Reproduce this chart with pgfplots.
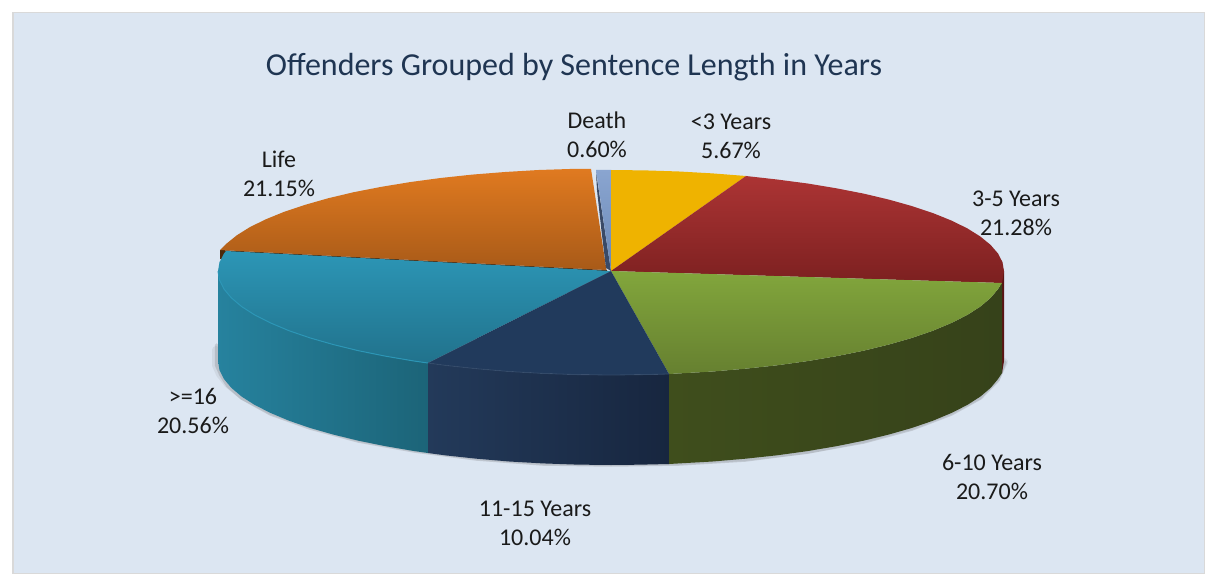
\documentclass[border=0pt]{standalone}
\usepackage{pgfplots}
\pgfplotsset{compat=1.18}
\usepackage{fontspec}
\setmainfont{Carlito}
\definecolor{panel}{HTML}{DCE6F2}
\definecolor{lab}{HTML}{1A1A1A}
\definecolor{ttl}{HTML}{1F3552}
\definecolor{lifeT}{HTML}{E07A20}\definecolor{lifeB}{HTML}{A85A18}
\definecolor{gteT}{HTML}{2C96B6}\definecolor{gteB}{HTML}{21728C}
\definecolor{gteL}{HTML}{26829E}\definecolor{gteR}{HTML}{1C6478}
\definecolor{navyT}{HTML}{213A5C}\definecolor{navyL}{HTML}{233A5A}\definecolor{navyR}{HTML}{17263F}
\definecolor{greenT}{HTML}{82A63C}\definecolor{greenB}{HTML}{668030}
\definecolor{greenL}{HTML}{3F4E1C}\definecolor{greenM}{HTML}{2F3A12}\definecolor{greenR}{HTML}{36421A}
\definecolor{redT}{HTML}{AC3434}\definecolor{redB}{HTML}{7C2020}\definecolor{redS}{HTML}{5A1414}
\definecolor{yel}{HTML}{EFB300}
\definecolor{deathT}{HTML}{8AA5D0}\definecolor{deathB}{HTML}{6A88B5}\definecolor{deathS}{HTML}{3A4A66}
\tikzset{lbl/.style={text=lab, align=center, font=\fontsize{24}{29}\selectfont}}
\begin{document}
\begin{tikzpicture}
\begin{axis}[
  scale only axis, width=1205pt, height=575pt,
  xmin=0, xmax=1205, ymin=0, ymax=575, y dir=reverse,
  hide axis,
  clip=true,
]
% page and panel
\addplot[fill=white, draw=none] coordinates {(0,0)(1205,0)(1205,575)(0,575)} --cycle;
\addplot[fill=panel, draw=black!15, line width=1.2pt] coordinates {(13,12.5)(1204.5,12.5)(1204.5,573.5)(13,573.5)} --cycle;
% soft shadow under the pie
\addplot[draw=black!60, opacity=0.10, line width=8pt, line cap=round] coordinates {(216,350)(216,365)(220,374)(228,384)(243,396)(272,411)(312,425)(360,438)(416,448)(478,456)(544,461)(611,462)(679,461)(745,457)(807,450)(863,439)(911,426)(950,411)(978,396)(996,378)(1004,362)};
\addplot[draw=black!60, opacity=0.22, line width=3.5pt, line cap=round] coordinates {(216.5,345)(216.5,365)(221,375)(228,386)(241.7,398)(270.7,414)(310,428)(358.4,441)(414.5,451)(476.6,459)(542.8,464)(611,465)(679.2,464)(745.4,460)(807.5,452)(863.6,442)(912,429)(951.3,414)(980.3,398)(998,380)(1005,362)};
% side of 3-5 Years
\addplot[fill=redS, draw=none] coordinates {(1000,271)(1004,271)(1004,361)(1002,373)(1000,373)} --cycle;
% side of >=16
\addplot[left color=gteL, right color=gteR, draw=none] coordinates {
 (218,271)(219.5,280.1)(224,289.1)(231.4,297.9)(241.7,306.6)(254.8,315)(270.7,323)(289,330.7)(310,337.9)(333.1,344.5)(358.4,350.7)(385.6,356.2)(414.5,361.1)(428,363)
 (428,453)(414.5,451.1)(385.6,446.2)(358.4,440.7)(333.1,434.5)(310,427.9)(289,420.7)(270.7,413)(254.8,405)(241.7,396.6)(231.4,387.9)(224,379.1)(219.5,370.1)(218,361)} --cycle;
% side of 11-15 Years
\addplot[left color=navyL, right color=navyR, draw=none] coordinates {
 (428,363)(444.9,365.3)(476.6,368.7)(509.3,371.5)(542.8,373.4)(576.7,374.6)(611,375)(638.4,374.7)(669,374)
 (669,464)(638.4,464.7)(611,465)(576.7,464.6)(542.8,463.4)(509.3,461.5)(476.6,458.7)(444.9,455.3)(428,453)} --cycle;
% side of 6-10 Years
\addplot[left color=greenL, middle color=greenM, right color=greenR, draw=none] coordinates {
 (669,374)(679.2,373.4)(712.7,371.5)(745.4,368.7)(777.1,365.3)(807.5,361.1)(836.4,356.2)(863.6,350.7)(888.9,344.5)(912,337.9)(933,330.7)(951.3,323)(967.2,315)(980.3,306.6)(990.6,297.9)(998,289.1)(1002,283)
 (1002,373)(998,379.1)(990.6,387.9)(980.3,396.6)(967.2,405)(951.3,413)(933,420.7)(912,427.9)(888.9,434.5)(863.6,440.7)(836.4,446.2)(807.5,451.1)(777.1,455.3)(745.4,458.7)(712.7,461.5)(679.2,463.4)(669,464)} --cycle;
% dark edge of Life
\addplot[fill=lifeB!45!black, draw=none] coordinates {(220,250)(607,270)(607,273)(220,259)} --cycle;
% top: Life
\addplot[top color=lifeT, bottom color=lifeB, draw=none] coordinates {
 (606.5,270)(591,168.8)(572.7,168.9)(538.6,170)(505,172)(472.3,174.6)(440.5,178)(410,182.1)(381,186.9)(353.7,192.2)(328.4,198.2)(305.2,204.8)(284.2,211.8)(265.8,219.3)(249.9,227.1)(236.8,235.3)(226.4,243.7)(220,250)} --cycle;
% top: Death
\addplot[fill=deathS, draw=none] coordinates {(596,172)(597,190)(601.7,233)(606,268)(611,271)} --cycle;
\addplot[top color=deathT, bottom color=deathB, draw=none] coordinates {(611,271)(596,170)(611,170)} --cycle;
% top: <3 Years
\addplot[fill=yel, draw=none] coordinates {(611,271)(611,170)(645.3,170.4)(679.2,171.5)(712.7,173.4)(746,176)} --cycle;
% top: 3-5 Years
\addplot[top color=redT, bottom color=redB, draw=none] coordinates {
 (611,271)(746,176)(777.1,179.5)(807.5,183.5)(836.4,188.3)(863.6,193.6)(888.9,199.6)(912,206.1)(933,213.1)(951.3,220.5)(967.2,228.3)(980.3,236.5)(990.6,244.9)(998,253.5)(1002.5,262.2)(1004,271)(1002,283)} --cycle;
% top: 6-10 Years
\addplot[top color=greenT, bottom color=greenB, draw=none] coordinates {
 (611,271)(1002,283)(998,289.1)(990.6,297.9)(980.3,306.6)(967.2,315)(951.3,323)(933,330.7)(912,337.9)(888.9,344.5)(863.6,350.7)(836.4,356.2)(807.5,361.1)(777.1,365.3)(745.4,368.7)(712.7,371.5)(679.2,373.4)(669,374)} --cycle;
% top: >=16
\addplot[top color=gteT, bottom color=gteB, draw=none] coordinates {
 (611,271)(226,251)(224,253.5)(219.5,262.2)(218,271)(219.5,280.1)(224,289.1)(231.4,297.9)(241.7,306.6)(254.8,315)(270.7,323)(289,330.7)(310,337.9)(333.1,344.5)(358.4,350.7)(385.6,356.2)(414.5,361.1)(428,363)} --cycle;
% top: 11-15 Years
\addplot[fill=navyT, draw=none] coordinates {
 (611,271)(428,363)(444.9,365.3)(476.6,368.7)(509.3,371.5)(542.8,373.4)(576.7,374.6)(611,375)(638.4,374.7)(669,374)} --cycle;
% rims
\addplot[draw=gteT, line width=1pt] coordinates {(218,271)(219.5,280.1)(224,289.1)(231.4,297.9)(241.7,306.6)(254.8,315)(270.7,323)(289,330.7)(310,337.9)(333.1,344.5)(358.4,350.7)(385.6,356.2)(414.5,361.1)(428,363)};
\addplot[draw=navyT!92!white, line width=0.8pt] coordinates {(428,363)(444.9,365.3)(476.6,368.7)(509.3,371.5)(542.8,373.4)(576.7,374.6)(611,375)(638.4,374.7)(669,374)};
% text
\node[text=ttl, font=\fontsize{32}{38}\selectfont] at (axis cs:574,67) {Offenders Grouped by Sentence Length in Years};
\node[lbl] at (axis cs:597,135) {Death\\0.60\%};
\node[lbl] at (axis cs:731,136) {<3 Years\\5.67\%};
\node[lbl] at (axis cs:1016,213) {3-5 Years\\21.28\%};
\node[lbl] at (axis cs:279,174) {Life\\21.15\%};
\node[lbl] at (axis cs:193,411) {>=16\\20.56\%};
\node[lbl] at (axis cs:535,523) {11-15 Years\\10.04\%};
\node[lbl] at (axis cs:992,477) {6-10 Years\\20.70\%};
\end{axis}
\end{tikzpicture}
\end{document}
